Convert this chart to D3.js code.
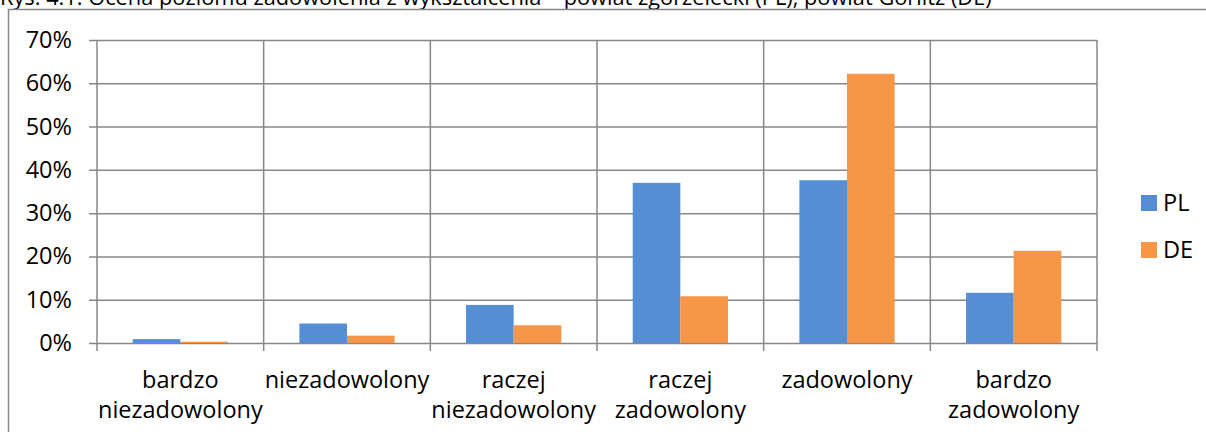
<!DOCTYPE html>
<html>
<head>
<meta charset="utf-8">
<script src="https://cdn.jsdelivr.net/npm/d3@7"></script>
<style>
  body { margin: 0; background: #fff; }
  svg { display: block; font-family: "Open Sans", sans-serif; }
</style>
</head>
<body>
<svg id="chart" width="1206" height="432"></svg>
<script>
// chart data
const categories = ["bardzo niezadowolony", "niezadowolony", "raczej niezadowolony",
                    "raczej zadowolony", "zadowolony", "bardzo zadowolony"];
const seriesNames = ["PL", "DE"];
const valuesPL = [0.9, 4.5, 8.8, 37.0, 37.6, 11.6];
const valuesDE = [0.3, 1.7, 4.1, 10.8, 62.2, 21.3];
const yTicks = [0, 10, 20, 30, 40, 50, 60, 70];
const titleText = "Rys. 4.1. Ocena poziomu zadowolenia z wykształcenia – powiat zgorzelecki (PL), powiat Görlitz (DE)";

const COLORS = { PL: "#558ED5", DE: "#F79646" };
const GRID = "#878787";
const FONT = 23.5;
const plot = { left: 97, right: 1097, top: 40, bottom: 343 };

const svg = d3.select("#chart");

// title (cut off at the top in the original)
svg.append("text")
    .attr("x", 0).attr("y", 5)
    .attr("font-size", 21.8)
    .attr("fill", "#000")
    .text(titleText);

// outer frame
svg.append("rect")
    .attr("x", 8.5).attr("y", 9.5)
    .attr("width", 1220).attr("height", 440)
    .attr("fill", "none")
    .attr("stroke", GRID).attr("stroke-width", 1.5);

const x = d3.scaleBand()
    .domain(categories)
    .range([plot.left, plot.right])
    .paddingInner(0)
    .paddingOuter(0);

const xInner = d3.scaleBand()
    .domain(seriesNames)
    .range([0, x.bandwidth()])
    .paddingInner(0)
    .paddingOuter(0.75);

const y = d3.scaleLinear()
    .domain([0, 70])
    .range([plot.bottom, plot.top]);

// horizontal gridlines + y axis
const yAxis = d3.axisLeft(y)
    .tickValues(yTicks)
    .tickSize(-(plot.right - plot.left))
    .tickSizeOuter(0)
    .tickPadding(0)
    .tickFormat(d => d + "%");

const yG = svg.append("g")
    .attr("transform", `translate(${plot.left},0)`)
    .call(yAxis);
yG.select(".domain").remove();
yG.selectAll(".tick line")
    .attr("x1", -8)
    .attr("stroke", GRID).attr("stroke-width", 1.5);
yG.selectAll(".tick text")
    .attr("x", -25)
    .attr("font-size", FONT)
    .attr("font-family", "Open Sans, sans-serif")
    .attr("fill", "#000");

// vertical gridlines at category boundaries (extend below as ticks)
const bounds = categories.map(c => x(c)).concat([x(categories[categories.length - 1]) + x.bandwidth()]);
svg.append("g").selectAll("line")
    .data(bounds)
    .join("line")
    .attr("x1", d => d).attr("x2", d => d)
    .attr("y1", plot.top).attr("y2", plot.bottom + 8)
    .attr("stroke", GRID).attr("stroke-width", 1.5);

// bars
const rows = categories.map((c, i) => ({ cat: c, PL: valuesPL[i], DE: valuesDE[i] }));
const groups = svg.append("g").selectAll("g")
    .data(rows)
    .join("g")
    .attr("transform", d => `translate(${x(d.cat)},0)`);

groups.selectAll("rect")
    .data(d => seriesNames.map(s => ({ key: s, value: d[s] })))
    .join("rect")
    .attr("x", d => xInner(d.key))
    .attr("width", xInner.bandwidth())
    .attr("y", d => y(d.value))
    .attr("height", d => y(0) - y(d.value))
    .attr("fill", d => COLORS[d.key]);

// category labels
const labels = svg.append("g").selectAll("text")
    .data(categories)
    .join("text")
    .attr("text-anchor", "middle")
    .attr("font-size", FONT)
    .attr("fill", "#000")
    .attr("transform", d => `translate(${x(d) + x.bandwidth() / 2},388)`);
labels.selectAll("tspan")
    .data(d => d.split(" "))
    .join("tspan")
    .attr("x", 0)
    .attr("dy", (d, i) => i === 0 ? 0 : 30)
    .text(d => d);

// legend
const legend = svg.append("g").selectAll("g")
    .data(seriesNames)
    .join("g")
    .attr("transform", (d, i) => `translate(1141,${195 + i * 47})`);
legend.append("rect")
    .attr("width", 16).attr("height", 16)
    .attr("fill", d => COLORS[d]);
legend.append("text")
    .attr("x", 22).attr("y", 8)
    .attr("dy", "0.35em")
    .attr("font-size", FONT)
    .attr("fill", "#000")
    .text(d => d);
</script>
</body>
</html>
